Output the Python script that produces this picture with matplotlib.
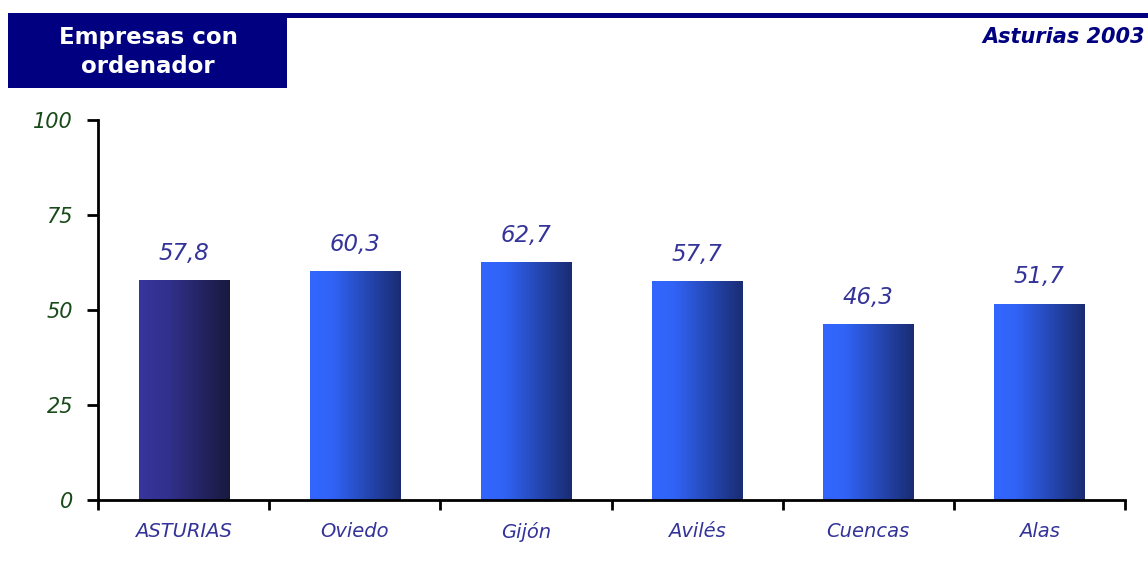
import matplotlib
matplotlib.use("Agg")
import matplotlib.pyplot as plt
import numpy as np
from matplotlib.colors import LinearSegmentedColormap
from matplotlib.patches import Rectangle

categories = ["ASTURIAS", "Oviedo", "Gijón", "Avilés", "Cuencas", "Alas"]
values = [57.8, 60.3, 62.7, 57.7, 46.3, 51.7]
value_labels = ["57,8", "60,3", "62,7", "57,7", "46,3", "51,7"]
yticks = [0, 25, 50, 75, 100]

W, H = 1148, 567
fig = plt.figure(figsize=(W / 100, H / 100), dpi=100)
plt.rcParams['font.family'] = ['DejaVu Sans']

ax = fig.add_axes([98 / W, 1 - 500 / H, (1125 - 98) / W, (500 - 120) / H])
ax.set_xlim(-0.5, len(categories) - 0.5)
ax.set_ylim(0, 100)

cmap_main = LinearSegmentedColormap.from_list(
    "m", [(0, "#36369c"), (0.3, "#32318f"), (1, "#19193f")])
cmap_other = LinearSegmentedColormap.from_list(
    "o", [(0, "#3366ff"), (0.25, "#3063f5"), (1, "#1a2c72")])

bw = 0.526
grad = np.linspace(0, 1, 256).reshape(1, -1)
for i, (v, lab) in enumerate(zip(values, value_labels)):
    cm = cmap_main if i == 0 else cmap_other
    rect = Rectangle((i - bw / 2, 0), bw, v, facecolor="none", edgecolor="none")
    ax.add_patch(rect)
    im = ax.imshow(grad, cmap=cm, aspect="auto",
                   extent=(i - bw / 2, i + bw / 2, 0, v), zorder=2,
                   interpolation="bilinear")
    im.set_clip_path(rect)
    ax.text(i, v + 4.0, lab, ha="center", va="bottom", fontsize=16.5,
            style="italic", color="#333399")

ax.set_xlim(-0.5, len(categories) - 0.5)
ax.set_ylim(0, 100)

for s in ["top", "right"]:
    ax.spines[s].set_visible(False)
for s in ["left", "bottom"]:
    ax.spines[s].set_linewidth(2)
    ax.spines[s].set_color("black")

ax.set_yticks(yticks)
ax.set_yticklabels([str(t) for t in yticks], fontsize=15, style="italic",
                   color="#1a4a1a")
ax.tick_params(axis="y", direction="out", length=8, width=2, pad=10)

ax.set_xticks(np.arange(-0.5, len(categories) + 0.5, 1))
ax.set_xticklabels([])
ax.set_xticks(np.arange(len(categories)), minor=True)
ax.set_xticklabels(categories, minor=True, fontsize=14, style="italic",
                   color="#333399")
ax.tick_params(axis="x", which="major", direction="out", length=7, width=2)
ax.tick_params(axis="x", which="minor", length=0, pad=16)

# Header
fig.patches.append(Rectangle((8 / W, 1 - 88 / H), (287 - 8) / W, (88 - 13) / H,
                             transform=fig.transFigure, facecolor="#000080",
                             edgecolor="none"))
fig.patches.append(Rectangle((287 / W, 1 - 18 / H), (W - 287) / W, 5 / H,
                             transform=fig.transFigure, facecolor="#000080",
                             edgecolor="none"))
fig.text(148 / W, 1 - 52 / H, "Empresas con\nordenador", ha="center",
         va="center", fontsize=16.5, color="white", fontweight="bold",
         linespacing=1.35)
fig.text(1145 / W, 1 - 37 / H, "Asturias 2003", ha="right", va="center",
         fontsize=15, style="italic", fontweight="bold", color="#000080")

fig.savefig("out.png", dpi=100)
